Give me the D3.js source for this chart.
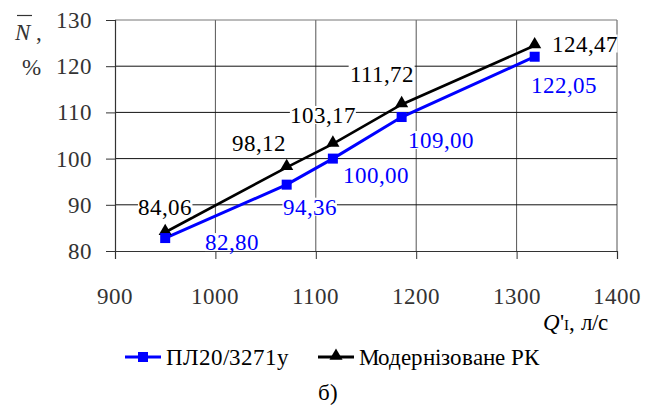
<!DOCTYPE html>
<html>
<head>
<meta charset="utf-8">
<script src="https://cdn.jsdelivr.net/npm/d3@7"></script>
<style>
@font-face { font-family: "ChartSerif"; src: local("Liberation Serif"), local("LiberationSerif"), local("LiberationSerif-Regular"); font-style: normal; }
@font-face { font-family: "ChartSerif"; src: local("Liberation Serif Italic"), local("LiberationSerif-Italic"); font-style: italic; }
body { margin: 0; background: #fff; }
svg text { font-family: ChartSerif, "Liberation Serif", "Times New Roman", serif !important; }
</style>
</head>
<body>
<svg id="svg" width="656" height="416"></svg>
<script>
var serif = "Liberation Serif";
var fs = 23;

// data
var flow = [950, 1071, 1117, 1185.5, 1318];
var seriesBase = [82.80, 94.36, 100.00, 109.00, 122.05];
var seriesMod = [84.06, 98.12, 103.17, 111.72, 124.47];
var baseLabels = ["82,80", "94,36", "100,00", "109,00", "122,05"];
var modLabels = ["84,06", "98,12", "103,17", "111,72", "124,47"];
var xTicks = [900, 1000, 1100, 1200, 1300, 1400];
var yTicks = [80, 90, 100, 110, 120, 130];
var legendNames = ["ПЛ20/3271у", "Модернізоване РК"];

// label offsets (px) from each point
var baseOff = [[67, 4], [23, 22], [43, 16], [39, 23], [29, 28]];
var modOff = [[0, -25], [-28, -24], [-10, -29], [-20, -31], [50, -2]];

var svg = d3.select("#svg");

var x = d3.scaleLinear().domain([900, 1400]).range([115, 617]);
var y = d3.scaleLinear().domain([80, 130]).range([251, 20]);

function txt(xp, yp, s) {
	return svg.append("text").attr("x", xp).attr("y", yp)
		.attr("font-family", serif)
		.attr("font-size", fs).text(s);
}

// grid
svg.append("g").selectAll("line").data(xTicks.slice(1)).enter().append("line")
	.attr("x1", function(d) { return x(d); }).attr("x2", function(d) { return x(d); })
	.attr("y1", y(130)).attr("y2", y(80))
	.attr("stroke", "#555").attr("stroke-width", 1);
svg.append("g").selectAll("line").data(yTicks.slice(1)).enter().append("line")
	.attr("x1", x(900)).attr("x2", x(1400))
	.attr("y1", function(d) { return y(d); }).attr("y2", function(d) { return y(d); })
	.attr("stroke", function(d) { return d == 130 ? "#777" : "#111"; }).attr("stroke-width", 1);

// axes (lines only, labels drawn as plain text)
var xAxis = svg.append("g")
	.attr("transform", "translate(0," + y(80) + ")")
	.call(d3.axisBottom(x).tickValues(xTicks).tickSize(8).tickFormat(""));
var yAxis = svg.append("g")
	.attr("transform", "translate(" + x(900) + ",0)")
	.call(d3.axisLeft(y).tickValues(yTicks).tickSize(9).tickFormat(""));
[xAxis, yAxis].forEach(function(a) {
	a.select(".domain").attr("stroke", "#333").attr("stroke-width", 1.2);
	a.selectAll(".tick line").attr("stroke", "#333");
	a.selectAll("text").remove();
});
xTicks.forEach(function(t) {
	txt(x(t), 296, String(t)).attr("dy", "0.35em").attr("text-anchor", "middle").attr("fill", "#333");
});
yTicks.forEach(function(t) {
	txt(92, y(t), String(t)).attr("dy", "0.35em").attr("text-anchor", "end").attr("fill", "#333");
});

var line = d3.line()
	.x(function(d, i) { return x(flow[i]); })
	.y(function(d) { return y(d); });

svg.append("path").datum(seriesMod)
	.attr("d", line).attr("fill", "none").attr("stroke", "#000").attr("stroke-width", 2.6);
svg.append("path").datum(seriesBase)
	.attr("d", line).attr("fill", "none").attr("stroke", "#0000ff").attr("stroke-width", 3);

var tri = d3.symbol().type(d3.symbolTriangle).size(75);
svg.append("g").selectAll("path").data(seriesMod).enter().append("path")
	.attr("d", tri)
	.attr("transform", function(d, i) { return "translate(" + x(flow[i]) + "," + (y(d) - 1) + ")"; })
	.attr("fill", "#000");
svg.append("g").selectAll("rect").data(seriesBase).enter().append("rect")
	.attr("x", function(d, i) { return x(flow[i]) - 5; })
	.attr("y", function(d) { return y(d) - 5; })
	.attr("width", 10).attr("height", 10)
	.attr("fill", "#0000ff");

function labels(vals, texts, off, color) {
	vals.forEach(function(v, i) {
		var cx = x(flow[i]) + off[i][0], cy = y(v) + off[i][1];
		var w = texts[i].length * 11.5 - 5;
		svg.append("rect").attr("fill", "#fff")
			.attr("x", cx - w / 2 - 1).attr("y", cy - 9).attr("width", w + 2).attr("height", 18);
		txt(cx, cy, texts[i]).attr("dy", "0.35em").attr("text-anchor", "middle").attr("fill", color);
	});
}
labels(seriesMod, modLabels, modOff, "#000");
labels(seriesBase, baseLabels, baseOff, "#0000ff");

// y title
txt(15, 40, "N").attr("font-style", "italic").attr("fill", "#333");
svg.append("line").attr("x1", 17).attr("x2", 32).attr("y1", 15.5).attr("y2", 15.5)
	.attr("stroke", "#333").attr("stroke-width", 1.2);
txt(36, 40, ",").attr("fill", "#333");
txt(22, 75, "%").attr("fill", "#333");

// x title
var xt = txt(608, 330, null).attr("text-anchor", "end").attr("fill", "#000");
xt.append("tspan").attr("font-style", "italic").text("Q");
xt.append("tspan").text("'");
xt.append("tspan").attr("font-size", 15).text("I");
xt.append("tspan").text(", л/с");

// legend
var legX = [125, 318];
legendNames.forEach(function(name, i) {
	var c = i == 0 ? "#0000ff" : "#000";
	svg.append("line").attr("x1", legX[i]).attr("x2", legX[i] + 36)
		.attr("y1", 357).attr("y2", 357).attr("stroke", c).attr("stroke-width", 3);
	if (i == 0) {
		svg.append("rect").attr("x", legX[i] + 13).attr("y", 352).attr("width", 10).attr("height", 10).attr("fill", c);
	} else {
		svg.append("path").attr("d", tri).attr("transform", "translate(" + (legX[i] + 18) + ",356)").attr("fill", c);
	}
	txt(legX[i] + 41, 357, name).attr("dy", "0.35em").attr("fill", "#000");
});

txt(328, 392, "б)").attr("dy", "0.35em").attr("text-anchor", "middle").attr("fill", "#000");
</script>
</body>
</html>
